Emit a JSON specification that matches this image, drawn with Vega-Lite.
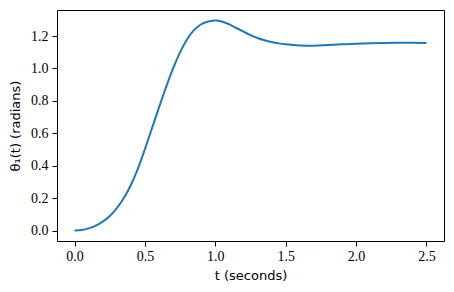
{
  "$schema": "https://vega.github.io/schema/vega-lite/v6.json",
  "width": 387,
  "height": 231,
  "autosize": "none",
  "padding": {"left": 57, "top": 10, "right": 10, "bottom": 51},
  "background": "white",
  "config": {
    "view": {"stroke": "black", "strokeWidth": 1},
    "axis": {
      "grid": false,
      "domain": false,
      "tickColor": "black",
      "tickSize": 5,
      "tickWidth": 1,
      "labelFont": "Times New Roman",
      "labelFontSize": 14,
      "labelColor": "black",
      "titleFont": "DejaVu Sans",
      "titleFontSize": 13,
      "titleFontWeight": "normal",
      "titleColor": "black"
    }
  },
  "data": {
    "values": [
      {"t": 0.0, "theta": 0.0},
      {"t": 0.05, "theta": 0.003},
      {"t": 0.1, "theta": 0.013},
      {"t": 0.15, "theta": 0.03},
      {"t": 0.2, "theta": 0.055},
      {"t": 0.25, "theta": 0.09},
      {"t": 0.3, "theta": 0.138},
      {"t": 0.35, "theta": 0.2},
      {"t": 0.4, "theta": 0.281},
      {"t": 0.45, "theta": 0.382},
      {"t": 0.5, "theta": 0.503},
      {"t": 0.55, "theta": 0.631},
      {"t": 0.6, "theta": 0.76},
      {"t": 0.65, "theta": 0.885},
      {"t": 0.7, "theta": 1.001},
      {"t": 0.75, "theta": 1.101},
      {"t": 0.8, "theta": 1.181},
      {"t": 0.85, "theta": 1.238},
      {"t": 0.9, "theta": 1.273},
      {"t": 0.95, "theta": 1.29},
      {"t": 1.0, "theta": 1.296},
      {"t": 1.05, "theta": 1.289},
      {"t": 1.1, "theta": 1.272},
      {"t": 1.15, "theta": 1.25},
      {"t": 1.2, "theta": 1.228},
      {"t": 1.25, "theta": 1.206},
      {"t": 1.3, "theta": 1.188},
      {"t": 1.35, "theta": 1.174},
      {"t": 1.4, "theta": 1.163},
      {"t": 1.45, "theta": 1.155},
      {"t": 1.5, "theta": 1.149},
      {"t": 1.55, "theta": 1.145},
      {"t": 1.6, "theta": 1.142},
      {"t": 1.65, "theta": 1.141},
      {"t": 1.7, "theta": 1.141},
      {"t": 1.8, "theta": 1.145},
      {"t": 1.9, "theta": 1.149},
      {"t": 2.0, "theta": 1.153},
      {"t": 2.1, "theta": 1.156},
      {"t": 2.2, "theta": 1.158},
      {"t": 2.3, "theta": 1.159},
      {"t": 2.4, "theta": 1.159},
      {"t": 2.5, "theta": 1.158}
    ]
  },
  "mark": {"type": "line", "color": "#1f77b4", "strokeWidth": 2, "interpolate": "monotone"},
  "encoding": {
    "x": {
      "field": "t",
      "type": "quantitative",
      "scale": {"domain": [-0.125, 2.625], "nice": false, "zero": false},
      "axis": {"values": [0, 0.5, 1, 1.5, 2, 2.5], "format": ".1f", "labelPadding": 3, "title": "t (seconds)", "titlePadding": 6}
    },
    "y": {
      "field": "theta",
      "type": "quantitative",
      "scale": {"domain": [-0.0648, 1.361], "nice": false, "zero": false},
      "axis": {"values": [0, 0.2, 0.4, 0.6, 0.8, 1.0, 1.2], "format": ".1f", "labelPadding": 4, "title": "θ₁(t) (radians)", "titlePadding": 8}
    }
  }
}
